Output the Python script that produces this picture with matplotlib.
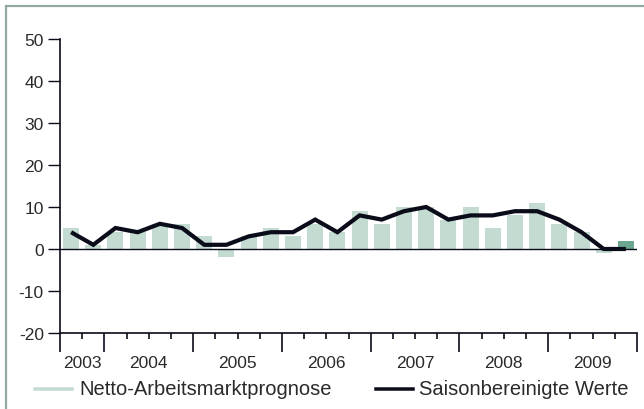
import matplotlib.pyplot as plt
import numpy as np
from matplotlib.lines import Line2D
from matplotlib.patches import Rectangle

plt.rcParams['font.family'] = ['Liberation Sans', 'DejaVu Sans']
plt.rcParams['axes.unicode_minus'] = False

# quarterly values, 2003 Q3 .. 2009 Q4
netto = [5, 1, 4, 4, 6, 6, 3, -2, 3, 5, 3, 6, 4,
         9, 6, 10, 10, 7, 10, 5, 8, 11, 6, 4, -1, 2]
saison = [4, 1, 5, 4, 6, 5, 1, 1, 3, 4, 4, 7, 4,
          8, 7, 9, 10, 7, 8, 8, 9, 9, 7, 4, 0, 0]
years = ['2003', '2004', '2005', '2006', '2007', '2008', '2009']
quarters_per_year = [2, 4, 4, 4, 4, 4, 4]

bar_light = '#c4dbd1'
bar_dark = '#6ea78f'
line_col = '#0b0c1a'
text_col = '#2a2a2a'
px = 72 / 100  # points per pixel

fig = plt.figure(figsize=(6.44, 4.10), dpi=100)
ax = fig.add_axes([60/644, 1 - 334/410, 577/644, 294/410])

n = len(netto)
x = np.arange(n) + 0.5
colors = [bar_light] * (n - 1) + [bar_dark]
ax.bar(x, netto, width=0.72, color=colors, zorder=1)
ax.axhline(0, color=line_col, lw=1.0, zorder=2)
ax.plot(x, saison, color=line_col, lw=4.2 * px, solid_joinstyle='miter',
        solid_capstyle='butt', zorder=3)

ax.set_xlim(0, n)
ax.set_ylim(-20, 50)
ax.set_yticks(range(-20, 51, 10))
ax.tick_params(axis='y', length=12 * px, width=1.0, color=line_col, pad=3,
               labelsize=12.5, labelcolor=text_col)

for s in ['top', 'right']:
    ax.spines[s].set_visible(False)
for s in ['left', 'bottom']:
    ax.spines[s].set_linewidth(1.2)
    ax.spines[s].set_color(line_col)

bounds = np.concatenate([[0], np.cumsum(quarters_per_year)])
ax.set_xticks(range(n + 1), minor=True)
ax.set_xticks(bounds)
ax.set_xticklabels([])
ax.tick_params(axis='x', which='minor', length=6 * px, width=1.2, color=line_col)
ax.tick_params(axis='x', which='major', length=19 * px, width=1.2, color=line_col)
centers = (bounds[:-1] + bounds[1:]) / 2
for c, yr in zip(centers, years):
    ax.text(c, -30 / 294, yr, transform=ax.get_xaxis_transform(), ha='center',
            va='center', fontsize=12.5, color=text_col)

# legend
ly = 1 - 390/410
fig.add_artist(Line2D([35/644, 72/644], [ly] * 2, color=bar_light, lw=3.5 * px))
fig.text(79/644, ly, 'Netto-Arbeitsmarktprognose', ha='left', va='center',
         fontsize=14.5, color=text_col)
fig.add_artist(Line2D([376/644, 413/644], [ly] * 2, color=line_col, lw=3.5 * px))
fig.text(419/644, ly, 'Saisonbereinigte Werte', ha='left', va='center',
         fontsize=14.5, color=text_col)

# frame
fig.add_artist(Rectangle((6/644, -0.1), 2, 1 - 7/410 + 0.1, transform=fig.transFigure,
                         fill=False, ec='#8fa99c', lw=2.2 * px))

fig.savefig('out.png', dpi=100)
